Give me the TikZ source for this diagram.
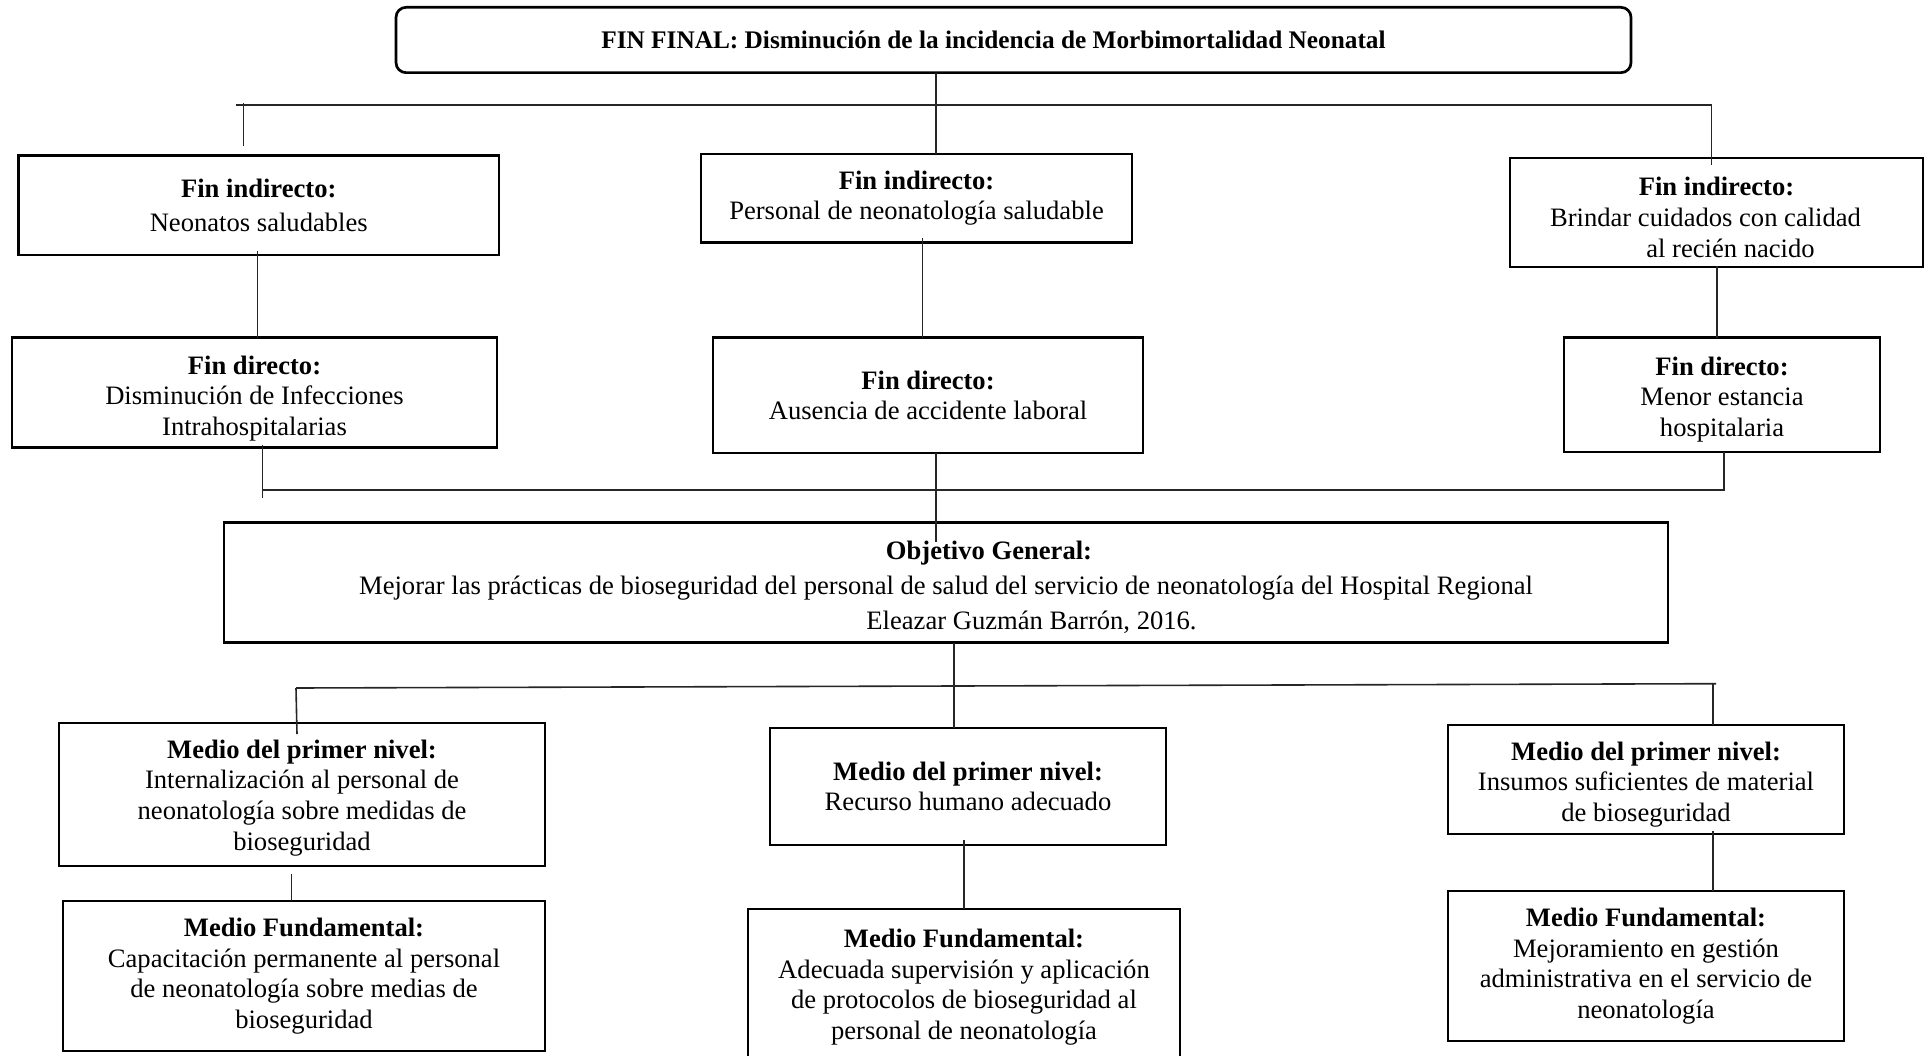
\documentclass[tikz,border=0pt]{standalone}
\usepackage{fontspec}
\setmainfont{Liberation Serif}
\newcommand{\dnbox}[2]{\raisebox{-#1}[\height][\depth]{\begin{tabular}{@{}c@{}}#2\end{tabular}}}
\begin{document}
\begin{tikzpicture}[x=1pt,y=-1pt,
  box/.style={draw, line width=2.7pt, inner sep=0pt, outer sep=0pt, align=center,
    font=\fontsize{26.6pt}{30.6pt}\selectfont},
  conn/.style={line width=1.6pt, draw=black!85}]
\useasboundingbox (0,0) rectangle (1932,1056);
\fill[white] (0,0) rectangle (1932,1056);

% ---------- boxes ----------
\node[box, rounded corners=10pt, minimum width=1235pt, minimum height=65.3pt,
  font=\fontsize{25.3pt}{29pt}\selectfont] (ff) at (1013.5,40)
  {\textbf{FIN FINAL: Disminución de la incidencia de Morbimortalidad Neonatal}\rule{40pt}{0pt}};

\node[box, minimum width=480.5pt, minimum height=99.3pt,
  font=\fontsize{26.6pt}{33.7pt}\selectfont] (fi1) at (258.75,205.25)
  {\textbf{Fin indirecto:}\\Neonatos saludables};
\node[box, minimum width=431pt, minimum height=88.4pt] (fi2) at (916.5,198.2)
  {\textbf{Fin indirecto:}\\Personal de neonatología saludable};
\node[box, minimum width=413pt, minimum height=109pt,
  font=\fontsize{26.6pt}{31pt}\selectfont] (fi3) at (1716.5,212.5)
  {\dnbox{8pt}{\textbf{Fin indirecto:}\\Brindar cuidados con calidad\rule{22pt}{0pt}\\\rule{28pt}{0pt}al recién nacido}};

\node[box, minimum width=485pt, minimum height=110.1pt] (fd1) at (254.5,392.75)
  {\dnbox{6pt}{\textbf{Fin directo:}\\Disminución de Infecciones\\Intrahospitalarias}};
\node[box, minimum width=430pt, minimum height=115.3pt] (fd2) at (928,395.35)
  {\textbf{Fin directo:}\\Ausencia de accidente laboral};
\node[box, minimum width=316pt, minimum height=114.2pt] (fd3) at (1722,394.8)
  {\dnbox{5pt}{\textbf{Fin directo:}\\Menor estancia\\hospitalaria}};

\node[box, minimum width=1444pt, minimum height=120pt,
  font=\fontsize{26.6pt}{35pt}\selectfont] (og) at (946,582.5)
  {\dnbox{5pt}{\rule{86pt}{0pt}\textbf{Objetivo General:}\\Mejorar las prácticas de bioseguridad del personal de salud del servicio de neonatología del Hospital Regional\\\rule{171pt}{0pt}Eleazar Guzmán Barrón, 2016.}};

\node[box, minimum width=486pt, minimum height=143pt] (mp1) at (302,794.5)
  {\dnbox{3.5pt}{\textbf{Medio del primer nivel:}\\Internalización al personal de\\neonatología sobre medidas de\\bioseguridad}};
\node[box, minimum width=396pt, minimum height=117pt] (mp2) at (968,786.5)
  {\textbf{Medio del primer nivel:}\\Recurso humano adecuado};
\node[box, minimum width=396pt, minimum height=109pt] (mp3) at (1646,779.5)
  {\dnbox{5pt}{\textbf{Medio del primer nivel:}\\Insumos suficientes de material\\de bioseguridad}};

\node[box, minimum width=482pt, minimum height=150pt] (mf1) at (304,976)
  {\textbf{Medio Fundamental:}\\Capacitación permanente al personal\\de neonatología sobre medias de\\bioseguridad};
\node[box, minimum width=432pt, minimum height=156pt] (mf2) at (964,987)
  {\textbf{Medio Fundamental:}\\Adecuada supervisión y aplicación\\de protocolos de bioseguridad al\\personal de neonatología};
\node[box, minimum width=396pt, minimum height=150pt] (mf3) at (1646,966)
  {\textbf{Medio Fundamental:}\\Mejoramiento en gestión\\administrativa en el servicio de\\neonatología};

% ---------- junction coordinates ----------
\coordinate (tbl) at (236,105);
\coordinate (tbr) at (1711.5,105);
\coordinate (tm) at (936,105);
\coordinate (tl1) at (243.5,102.7);
\coordinate (tl2) at (243.5,146.5);
\coordinate (c1) at (257.5,0);
\coordinate (c2) at (922.4,0);
\coordinate (c3) at (1717,0);
\coordinate (bl) at (262.5,490);
\coordinate (bl2) at (262.5,497.6);
\coordinate (br) at (1724,490);
\coordinate (bm) at (936,541.7);
\coordinate (ml) at (296,688);
\coordinate (mr) at (1716,683.7);
\coordinate (mm) at (954,686);
\coordinate (ml2) at (297,734);
\coordinate (mr1) at (1712.8,683.7);
\coordinate (d1) at (291.4,0);
\coordinate (d2) at (964,0);
\coordinate (d3) at (1713,0);

% ---------- connectors ----------
\draw[conn] (ff.south -| tm) -- (fi2.north -| tm);
\draw[conn] (tbl) -- (tbr) -- ([yshift=-7pt]fi3.north -| tbr);
\draw[conn] (tl1) -- (tl2);

\draw[conn] ([yshift=4pt]fi1.south -| c1) -- (fd1.north -| c1);
\draw[conn] ([yshift=4pt]fi2.south -| c2) -- (fd2.north -| c2);
\draw[conn] ([yshift=1pt]fi3.south -| c3) -- (fd3.north -| c3);

\draw[conn] ([yshift=3pt]fd1.south -| bl) -- (bl2);
\draw[conn] (bl) -- (br) -- (fd3.south -| br);
\draw[conn] (fd2.south -| bm) -- (bm);

\draw[conn] (og.south -| mm) -- (mp2.north -| mm);
\draw[conn] (ml) -- (mr);
\draw[conn] (ml) -- (ml2);
\draw[conn] (mr1) -- (mp3.north -| mr1);

\draw[conn] ([yshift=-8pt]mp1.south -| d1) -- (mf1.north -| d1);
\draw[conn] ([yshift=5pt]mp2.south -| d2) -- (mf2.north -| d2);
\draw[conn] ([yshift=3pt]mp3.south -| d3) -- (mf3.north -| d3);
\end{tikzpicture}
\end{document}
